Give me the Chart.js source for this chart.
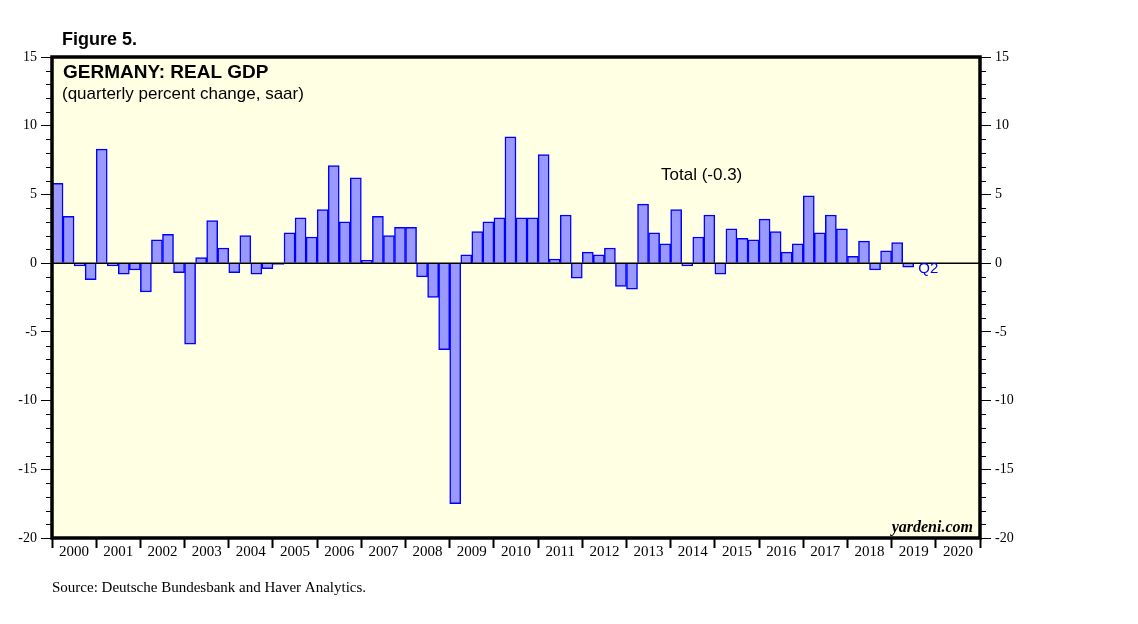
<!DOCTYPE html>
<html>
<head>
<meta charset="utf-8">
<script src="https://cdn.jsdelivr.net/npm/chart.js@4/dist/chart.umd.min.js"></script>
<style>
  html, body { margin: 0; padding: 0; background: #ffffff; }
  #wrap { width: 1138px; height: 624px; position: relative; }
</style>
</head>
<body>
<div id="wrap"><canvas id="c" width="1138" height="624"></canvas></div>
<script>
// ---- Data ----
const years = ['2000','2001','2002','2003','2004','2005','2006','2007','2008','2009','2010',
               '2011','2012','2013','2014','2015','2016','2017','2018','2019','2020'];
const quarters = [];
years.forEach(y => { for (let q = 1; q <= 4; q++) quarters.push(y + ' Q' + q); });

const gdpGrowth = [
  5.8, 3.4, -0.2, -1.2,
  8.3, -0.2, -0.8, -0.5,
  -2.1, 1.7, 2.1, -0.7,
  -5.9, 0.4, 3.1, 1.1,
  -0.7, 2.0, -0.8, -0.4,
  -0.1, 2.2, 3.3, 1.9,
  3.9, 7.1, 3.0, 6.2,
  0.2, 3.4, 2.0, 2.6,
  2.6, -1.0, -2.5, -6.3,
  -17.5, 0.6, 2.3, 3.0,
  3.3, 9.2, 3.3, 3.3,
  7.9, 0.3, 3.5, -1.1,
  0.8, 0.6, 1.1, -1.7,
  -1.9, 4.3, 2.2, 1.4,
  3.9, -0.2, 1.9, 3.5,
  -0.8, 2.5, 1.8, 1.7,
  3.2, 2.3, 0.8, 1.4,
  4.9, 2.2, 3.5, 2.5,
  0.5, 1.6, -0.5, 0.9,
  1.5, -0.3
];
const yMin = -20, yMax = 15, yMajorStep = 5;

const figureTitle = 'Figure 5.';
const chartTitle = 'GERMANY: REAL GDP';
const chartSubtitle = '(quarterly percent change, saar)';
const seriesLabel = 'Total (-0.3)';
const lastQuarterLabel = 'Q2';
const brand = 'yardeni.com';
const sourceText = 'Source: Deutsche Bundesbank and Haver Analytics.';

const SANS = '"Liberation Sans", Arial, sans-serif';
const SERIF = '"Liberation Serif", "Times New Roman", serif';

const decorPlugin = {
  id: 'decor',
  beforeDraw(chart) {
    const a = chart.chartArea, ctx = chart.ctx;
    ctx.save();
    ctx.fillStyle = '#FFFFE3';
    ctx.fillRect(a.left, a.top, a.right - a.left, a.bottom - a.top);
    ctx.restore();
  },
  afterDatasetsDraw(chart) {
    const a = chart.chartArea, ctx = chart.ctx;
    const yL = chart.scales.y, x = chart.scales.x;
    ctx.save();
    // zero line
    const y0 = yL.getPixelForValue(0);
    ctx.strokeStyle = '#000';
    ctx.lineWidth = 1.5;
    ctx.beginPath(); ctx.moveTo(a.left, y0); ctx.lineTo(a.right, y0); ctx.stroke();
    // minor ticks
    ctx.lineWidth = 1;
    for (let v = yMin; v <= yMax; v++) {
      if (v % yMajorStep === 0) continue;
      const py = Math.round(yL.getPixelForValue(v)) + 0.5;
      ctx.beginPath(); ctx.moveTo(a.left - 6, py); ctx.lineTo(a.left, py); ctx.stroke();
      ctx.beginPath(); ctx.moveTo(a.right, py); ctx.lineTo(a.right + 6, py); ctx.stroke();
    }
    // frame
    ctx.lineWidth = 3.5;
    ctx.strokeRect(a.left, a.top, a.right - a.left, a.bottom - a.top);

    // texts
    ctx.fillStyle = '#000';
    ctx.textBaseline = 'alphabetic';
    ctx.textAlign = 'left';
    ctx.font = 'bold 18px ' + SANS;
    ctx.fillText(figureTitle, 62, 45);
    ctx.font = 'bold 19px ' + SANS;
    ctx.fillText(chartTitle, 63, 78);
    ctx.font = '17px ' + SANS;
    ctx.fillText(chartSubtitle, 62, 99);
    ctx.fillText(seriesLabel, 661, 180);
    // Q2 label next to last bar
    const lastIdx = gdpGrowth.length - 1;
    const qx = x.getPixelForValue(lastIdx) + x.getPixelForValue(1) - x.getPixelForValue(0);
    ctx.fillStyle = '#0000FF';
    ctx.font = '15px ' + SANS;
    ctx.fillText(lastQuarterLabel, qx - 1, 273);
    // brand
    ctx.fillStyle = '#000';
    ctx.textAlign = 'right';
    ctx.font = 'italic bold 16px ' + SERIF;
    ctx.fillText(brand, a.right - 7, a.bottom - 6);
    // source
    ctx.textAlign = 'left';
    ctx.font = '15px ' + SERIF;
    ctx.fillText(sourceText, 52, 592);
    ctx.restore();
  }
};

const yAxisCommon = {
  type: 'linear',
  min: yMin, max: yMax,
  ticks: { stepSize: yMajorStep, color: '#000', font: { family: SERIF, size: 14 }, padding: 4 },
  grid: { drawOnChartArea: false, tickLength: 11, tickColor: '#000', tickWidth: 1 },
  border: { display: false }
};

new Chart(document.getElementById('c'), {
  type: 'bar',
  data: {
    labels: quarters,
    datasets: [{
      label: 'Real GDP',
      data: gdpGrowth,
      backgroundColor: '#9999FF',
      borderColor: '#0000FF',
      borderWidth: 1.5,
      barPercentage: 1,
      categoryPercentage: 1,
      xAxisID: 'x',
      yAxisID: 'y'
    }]
  },
  options: {
    responsive: false,
    devicePixelRatio: 1,
    animation: false,
    layout: { padding: { left: 0, right: 0, top: 57, bottom: 56 } },
    plugins: { legend: { display: false }, tooltip: { enabled: false } },
    scales: {
      x: { type: 'category', display: false, offset: true, grid: { display: false } },
      xYear: {
        type: 'category',
        labels: years,
        position: 'bottom',
        offset: true,
        grid: { offset: true, drawOnChartArea: false, tickLength: 10, tickColor: '#000', tickWidth: 2 },
        border: { display: false },
        ticks: { color: '#000', font: { family: SERIF, size: 15 }, maxRotation: 0, autoSkip: false, padding: -5 },
        afterFit(s) { s.height = 30; }
      },
      y: Object.assign({}, yAxisCommon, { position: 'left', afterFit(s) { s.width = 52; } }),
      y2: Object.assign({}, yAxisCommon, { position: 'right', afterFit(s) { s.width = 158; } })
    }
  },
  plugins: [decorPlugin]
});
</script>
</body>
</html>
